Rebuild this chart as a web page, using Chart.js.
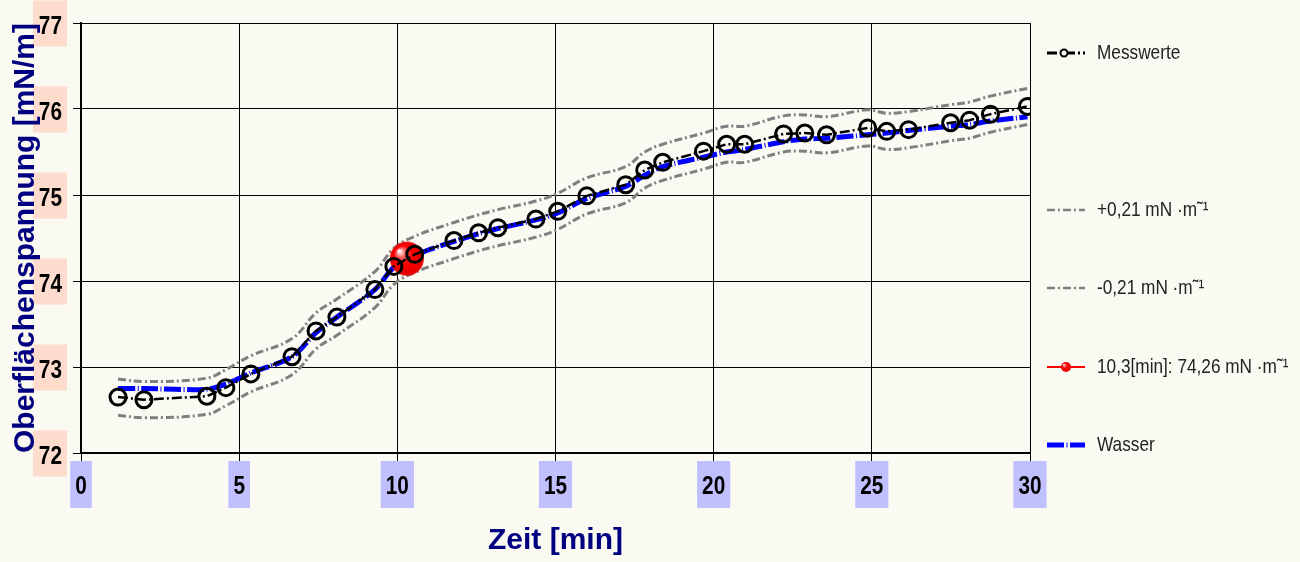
<!DOCTYPE html>
<html>
<head>
<meta charset="utf-8">
<script src="https://cdn.jsdelivr.net/npm/chart.js@4.4.1/dist/chart.umd.min.js"></script>
<style>
  body { margin: 0; background: #faf9f2; }
  canvas { display: block; }
</style>
</head>
<body>
<canvas id="chartSpannung" width="1300" height="562"></canvas>
<script>
// Messzeitpunkte [min]
const zeit = [1.17, 1.99, 3.98, 4.58, 5.37, 6.67, 7.43, 8.09, 9.29, 9.89, 10.55, 11.79, 12.57, 13.18, 14.38, 15.07, 15.99,
    17.22, 17.82, 18.39, 19.68, 20.41, 20.98, 22.21, 22.88, 23.57, 24.87, 25.47, 26.16, 27.49, 28.09, 28.75, 29.92];
// Oberflächenspannung [mN/m]
const messwerte = [72.65, 72.62, 72.66, 72.76, 72.92, 73.12, 73.42, 73.58, 73.90, 74.17, 74.31, 74.47, 74.56, 74.62, 74.72, 74.81, 74.99,
    75.12, 75.29, 75.38, 75.51, 75.59, 75.59, 75.71, 75.72, 75.70, 75.78, 75.74, 75.76, 75.84, 75.87, 75.94, 76.03];
const obereGrenze = [72.86, 72.83, 72.87, 72.97, 73.13, 73.33, 73.63, 73.79, 74.11, 74.38, 74.52, 74.68, 74.77, 74.83, 74.93, 75.02, 75.20,
    75.33, 75.50, 75.59, 75.72, 75.80, 75.80, 75.92, 75.93, 75.91, 75.99, 75.95, 75.97, 76.05, 76.08, 76.15, 76.24];
const untereGrenze = [72.44, 72.41, 72.45, 72.55, 72.71, 72.91, 73.21, 73.37, 73.69, 73.96, 74.10, 74.26, 74.35, 74.41, 74.51, 74.60, 74.78,
    74.91, 75.08, 75.17, 75.30, 75.38, 75.38, 75.50, 75.51, 75.49, 75.57, 75.53, 75.55, 75.63, 75.66, 75.73, 75.82];
const wasser = [72.75, 72.75, 72.74, 72.80, 72.93, 73.12, 73.40, 73.58, 73.90, 74.16, 74.30, 74.46, 74.55, 74.61, 74.71, 74.79, 74.96,
    75.10, 75.23, 75.33, 75.44, 75.50, 75.53, 75.62, 75.65, 75.66, 75.70, 75.72, 75.75, 75.80, 75.82, 75.86, 75.91];
const markerZeit = [10.3];
const markerWert = [74.26];

const zeitTicks = [0, 5, 10, 15, 20, 25, 30];
const spannungTicks = [72, 73, 74, 75, 76, 77];

const legendeTexte = ['Messwerte', '+0,21 mN ·m˜¹', '-0,21 mN ·m˜¹', '10,3[min]: 74,26 mN ·m˜¹', 'Wasser'];

const BREIT = "'Liberation Sans', Arial, sans-serif";
const SCHMAL_FAKTOR = 0.82; // Liberation Sans schmal gezogen ~ Arial Narrow

const punkte = (xs, ys) => xs.map((x, i) => ({ x, y: ys[i] }));

// rote Kugel für den markierten Punkt
function kugel(r) {
    const c = document.createElement('canvas');
    c.width = c.height = r * 2 + 2;
    const g = c.getContext('2d');
    const m = r + 1;
    const grad = g.createRadialGradient(m - r * 0.45, m - r * 0.45, r * 0.05, m, m, r);
    grad.addColorStop(0, '#ffffff');
    grad.addColorStop(0.2, '#ff7070');
    grad.addColorStop(0.5, '#ff0000');
    grad.addColorStop(1, '#e40000');
    g.fillStyle = grad;
    g.beginPath();
    g.arc(m, m, r, 0, Math.PI * 2);
    g.fill();
    return c;
}

function schmalText(ctx, text, x, y, align, faktor = SCHMAL_FAKTOR) {
    ctx.save();
    ctx.translate(x, y);
    ctx.scale(faktor, 1);
    ctx.textAlign = align;
    ctx.textBaseline = 'middle';
    ctx.fillText(text, 0, 0);
    ctx.restore();
}

// Achsenbeschriftung mit farbigen Kästchen (Kästchen unter dem Titel, Zahlen obenauf)
function tickKaesten(chart, nurKasten) {
    const ctx = chart.ctx;
    const { x: xs, y: ys } = chart.scales;
    const f = 0.8;
    ctx.save();
    ctx.font = 'bold 26px ' + BREIT;
    ys.ticks.forEach(t => {
        const py = ys.getPixelForValue(t.value);
        if (nurKasten) {
            ctx.fillStyle = '#fddccd';
            ctx.fillRect(33, py - 22.5, 34, 46);
        } else {
            ctx.fillStyle = '#000';
            schmalText(ctx, String(t.value), 62, py + 4, 'right', f);
        }
    });
    xs.ticks.forEach(t => {
        const px = xs.getPixelForValue(t.value);
        const w = ctx.measureText(String(t.value)).width * f + 10;
        if (nurKasten) {
            ctx.fillStyle = '#c0c0ff';
            ctx.fillRect(px - w / 2, 461, w, 47);
        } else {
            ctx.fillStyle = '#000';
            schmalText(ctx, String(t.value), px, 487, 'center', f);
        }
    });
    ctx.restore();
}

const beschriftungPlugin = {
    id: 'beschriftung',
    beforeDraw(chart) { tickKaesten(chart, true); },
    afterDraw(chart) { tickKaesten(chart, false); }
};

const legendePlugin = {
    id: 'legendeRechts',
    afterDraw(chart) {
        const ctx = chart.ctx;
        const x0 = 1047, x1 = 1085, tx = 1097;
        const zeilen = [53, 210, 288, 367, 445];
        const linie = (y, color, width, dash) => {
            ctx.save();
            ctx.strokeStyle = color;
            ctx.lineWidth = width;
            ctx.setLineDash(dash);
            ctx.beginPath();
            ctx.moveTo(x0, y);
            ctx.lineTo(x1, y);
            ctx.stroke();
            ctx.restore();
        };
        linie(zeilen[0], '#000', 3, [10, 3, 2, 3]);
        ctx.save();
        ctx.fillStyle = '#faf9f2';
        ctx.strokeStyle = '#000';
        ctx.lineWidth = 2;
        ctx.beginPath();
        ctx.arc(1064, zeilen[0], 3.5, 0, Math.PI * 2);
        ctx.fill();
        ctx.stroke();
        ctx.restore();
        linie(zeilen[1], '#808080', 2.5, [8, 3, 2, 3]);
        linie(zeilen[2], '#808080', 2.5, [8, 3, 2, 3]);
        linie(zeilen[3], '#ff0000', 2, []);
        ctx.drawImage(kugel(5), 1066 - 6, zeilen[3] - 6);
        linie(zeilen[4], '#0000ff', 5, [17, 2.5, 1, 2.5]);

        ctx.save();
        ctx.fillStyle = '#222';
        ctx.font = '21px ' + BREIT;
        legendeTexte.forEach((t, i) => schmalText(ctx, t, tx, zeilen[i], 'left'));
        ctx.restore();
    }
};

new Chart(document.getElementById('chartSpannung'), {
    type: 'line',
    data: {
        datasets: [{
            label: legendeTexte[0],
            data: punkte(zeit, messwerte),
            borderColor: '#000',
            borderWidth: 2.5,
            borderDash: [10, 3, 2, 3],
            pointRadius: 8,
            pointBorderWidth: 3,
            pointBorderColor: '#000',
            pointBackgroundColor: 'rgba(0,0,0,0)',
            tension: 0
        }, {
            label: legendeTexte[3],
            data: punkte(markerZeit, markerWert),
            showLine: false,
            pointStyle: kugel(17),
            pointRadius: 17
        }, {
            label: legendeTexte[4],
            data: punkte(zeit, wasser),
            borderColor: '#0000ff',
            borderWidth: 5,
            borderDash: [17, 2.5, 1, 2.5],
            pointRadius: 0,
            tension: 0.3
        }, {
            label: legendeTexte[1],
            data: punkte(zeit, obereGrenze),
            borderColor: '#808080',
            borderWidth: 3,
            borderDash: [8, 3, 2, 3],
            pointRadius: 0,
            tension: 0.4
        }, {
            label: legendeTexte[2],
            data: punkte(zeit, untereGrenze),
            borderColor: '#808080',
            borderWidth: 3,
            borderDash: [8, 3, 2, 3],
            pointRadius: 0,
            tension: 0.4
        }]
    },
    options: {
        responsive: false,
        animation: false,
        layout: { padding: { left: 0, top: 23, right: 270, bottom: 0 } },
        plugins: { legend: { display: false }, tooltip: { enabled: false } },
        scales: {
            x: {
                type: 'linear',
                min: 0,
                max: 30,
                afterBuildTicks: s => { s.ticks = zeitTicks.map(v => ({ value: v })); },
                afterFit: s => { s.height = 109; },
                ticks: { display: false },
                grid: { color: '#000', lineWidth: 1, tickLength: 8 },
                border: { color: '#000', width: 2 },
                title: {
                    display: true,
                    text: 'Zeit [min]',
                    color: '#000080',
                    font: { family: BREIT, size: 30, weight: 'bold' },
                    padding: { top: 4, bottom: 3 }
                }
            },
            y: {
                min: 72,
                max: 77,
                afterBuildTicks: s => { s.ticks = spannungTicks.map(v => ({ value: v })); },
                afterFit: s => { s.width = 81; },
                ticks: { display: false },
                grid: { color: '#000', lineWidth: 1, tickLength: 8 },
                border: { color: '#000', width: 2 },
                title: {
                    display: true,
                    text: 'Oberflächenspannung [mN/m]',
                    color: '#000080',
                    font: { family: BREIT, size: 30, weight: 'bold' },
                    padding: { top: 8, bottom: 4 }
                }
            }
        }
    },
    plugins: [beschriftungPlugin, legendePlugin]
});
</script>
</body>
</html>
